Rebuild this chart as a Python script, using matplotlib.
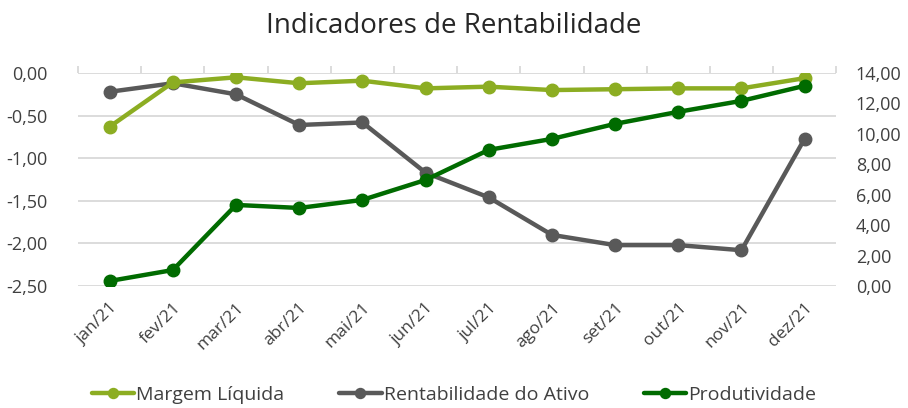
import matplotlib.pyplot as plt
import numpy as np
from matplotlib.ticker import FuncFormatter, MultipleLocator

plt.rcParams["font.family"] = ["Open Sans", "DejaVu Sans"]

meses = ["jan/21", "fev/21", "mar/21", "abr/21", "mai/21", "jun/21",
         "jul/21", "ago/21", "set/21", "out/21", "nov/21", "dez/21"]
margem_liquida = [-0.63, -0.11, -0.05, -0.12, -0.09, -0.18,
                  -0.16, -0.20, -0.19, -0.18, -0.18, -0.06]
rentabilidade_ativo = [-0.22, -0.12, -0.25, -0.61, -0.58, -1.17,
                       -1.46, -1.90, -2.02, -2.02, -2.08, -0.77]
produtividade = [0.33, 1.05, 5.33, 5.13, 5.66, 6.97,
                 8.95, 9.67, 10.66, 11.45, 12.17, 13.16]

COR_MARGEM = "#8cad22"
COR_RENT = "#595959"
COR_PROD = "#006b00"
COR_TEXTO = "#404040"
COR_GRADE = "#d9d9d9"


def virgula(v, _pos):
    return f"{v:.2f}".replace(".", ",")


fig = plt.figure(figsize=(9.08, 4.08), dpi=100)
ax = fig.add_axes([0.086, 0.299, 0.835, 0.522])
ax2 = ax.twinx()

x = np.arange(len(meses))
style = dict(linewidth=3.2, marker="o", markersize=9, solid_capstyle="round")
l1, = ax.plot(x, margem_liquida, color=COR_MARGEM, label="Margem Líquida", zorder=3, **style)
l2, = ax.plot(x, rentabilidade_ativo, color=COR_RENT, label="Rentabilidade do Ativo", zorder=2, **style)
l3, = ax2.plot(x, produtividade, color=COR_PROD, label="Produtividade", zorder=3, **style)

ax.set_xlim(-0.5, len(meses) - 0.5)
ax.set_ylim(-2.5, 0.0)
ax2.set_ylim(0, 14)
ax.yaxis.set_major_locator(MultipleLocator(0.5))
ax2.yaxis.set_major_locator(MultipleLocator(2))
ax.yaxis.set_major_formatter(FuncFormatter(virgula))
ax2.yaxis.set_major_formatter(FuncFormatter(virgula))

ax.grid(axis="y", color=COR_GRADE, linewidth=1.3)
ax.set_axisbelow(True)
for a in (ax, ax2):
    for s in a.spines.values():
        s.set_visible(False)

ax.set_xticks(x)
ax.set_xticklabels(meses, rotation=45, ha="right", rotation_mode="anchor",
                   color=COR_TEXTO, fontsize=12.5)
ax.tick_params(axis="x", length=0, pad=10)
ax.set_xticks(np.arange(-0.5, len(meses)), minor=True)
ax.tick_params(axis="x", which="minor", top=True, bottom=False, length=5,
               color=COR_GRADE, width=1.3, direction="out")
ax.tick_params(axis="y", length=0, labelcolor=COR_TEXTO, labelsize=13, pad=22)
ax2.tick_params(axis="y", length=0, labelcolor=COR_TEXTO, labelsize=13, pad=14)

fig.suptitle("Indicadores de Rentabilidade", y=0.97, fontsize=20, color="#262626")

fig.legend(handles=[l1, l2, l3], loc="center", bbox_to_anchor=(0.5, 0.033), ncol=3,
           frameon=False, fontsize=14, labelcolor=COR_TEXTO, handlelength=2.2,
           handletextpad=0.1, columnspacing=2.8, markerscale=0.8)

fig.savefig("out.png", dpi=100)
